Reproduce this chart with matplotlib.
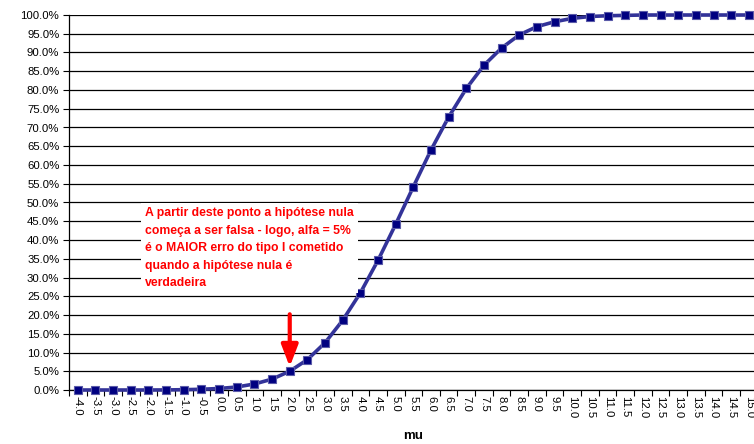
import matplotlib
matplotlib.use("Agg")
import matplotlib.pyplot as plt
from matplotlib.ticker import FixedLocator, NullFormatter

plt.rcParams['font.family'] = ['Liberation Sans', 'DejaVu Sans']

mu_labels = ["-4.0", "-3.5", "-3.0", "-2.5", "-2.0", "-1.5", "-1.0", "-0.5", "0.0", "0.5",
             "1.0", "1.5", "2.0", "2.5", "3.0", "3.5", "4.0", "4.5", "5.0", "5.5",
             "6.0", "6.5", "7.0", "7.5", "8.0", "8.5", "9.0", "9.5", "10.0", "10.5",
             "11.0", "11.5", "12.0", "12.5", "13.0", "13.5", "14.0", "14.5", "15.0"]
power_pct = [0.0, 0.0, 0.0, 0.0, 0.0, 0.02, 0.08, 0.2, 0.4, 0.8,
             1.6, 2.9, 5.0, 8.1, 12.6, 18.6, 25.9, 34.6, 44.2, 54.2,
             64.0, 72.8, 80.4, 86.6, 91.2, 94.7, 96.9, 98.2, 99.1, 99.6,
             99.8, 99.9, 100.0, 100.0, 100.0, 100.0, 100.0, 100.0, 100.0]
y_ticks = list(range(0, 101, 5))
annotation = ("A partir deste ponto a hipótese nula\n"
              "começa a ser falsa - logo, alfa = 5%\n"
              "é o MAIOR erro do tipo I cometido\n"
              "quando a hipótese nula é\n"
              "verdadeira")
arrow_index = mu_labels.index("2.0")

fig = plt.figure(figsize=(7.54, 4.44), dpi=100)
ax = fig.add_axes([69/754, 1-390/444, (757.7-69)/754, 375/444])

x = list(range(len(mu_labels)))
ax.plot(x, power_pct, color='#333399', lw=2.6, marker='s', markersize=6,
        markerfacecolor='#000080', markeredgecolor='#5a5aa8', markeredgewidth=0.8,
        zorder=3, clip_on=False)

ax.set_xlim(-0.5, len(mu_labels) - 0.5)
ax.set_ylim(0, 100)
ax.set_yticks(y_ticks)
ax.set_yticklabels([f"{v:.1f}%" for v in y_ticks], fontsize=8.2)
ax.yaxis.grid(True, color='black', lw=0.9)
ax.set_axisbelow(True)

ax.xaxis.set_major_locator(FixedLocator([i - 0.5 for i in range(len(mu_labels) + 1)]))
ax.xaxis.set_major_formatter(NullFormatter())
ax.xaxis.set_minor_locator(FixedLocator(x))
ax.set_xticklabels(mu_labels, minor=True, rotation=270, fontsize=8.2, va='top', ha='center')
ax.tick_params(axis='x', which='major', length=4, width=0.8, color='black', direction='out')
ax.tick_params(axis='x', which='minor', length=0, pad=4)
ax.tick_params(axis='y', length=4, width=0.8, direction='out', pad=3)

for s in ['top', 'right']:
    ax.spines[s].set_visible(False)
for s in ['left', 'bottom']:
    ax.spines[s].set_color('black')
    ax.spines[s].set_linewidth(0.9)

ax.set_xlabel("mu", fontsize=9.5, fontweight='bold', labelpad=9)

ax.text(3.8, 48.8, annotation, color='#ff0000', fontsize=8.8, fontweight='bold',
        ha='left', va='top', linespacing=1.62,
        bbox=dict(facecolor='white', edgecolor='none', pad=3))

ax.annotate("", xy=(arrow_index, 6.2), xytext=(arrow_index, 20.2),
            arrowprops=dict(arrowstyle='-|>,head_width=0.5,head_length=1.3',
                            color='#ff0000', lw=3, shrinkA=0, shrinkB=0), zorder=4)

fig.savefig("out.png", dpi=100)
